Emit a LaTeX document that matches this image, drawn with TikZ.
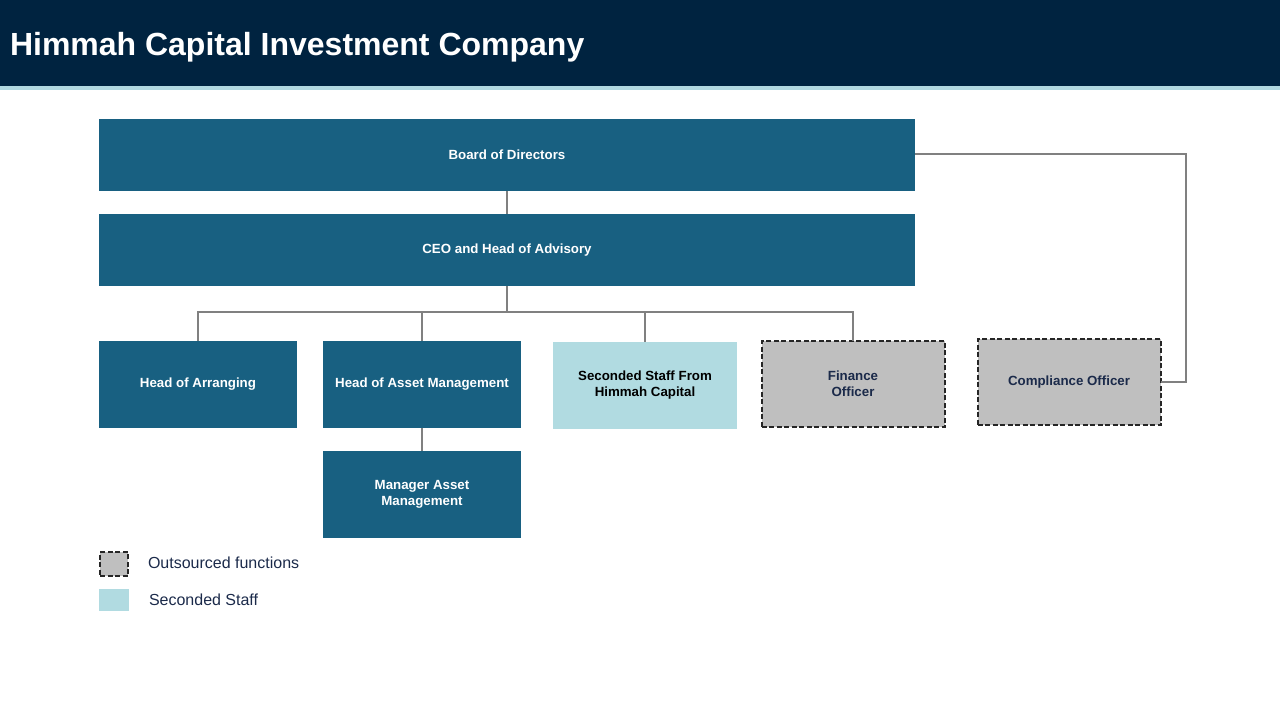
\documentclass[tikz,border=0pt]{standalone}
\usepackage{fontspec}
\setmainfont{Liberation Sans}
\definecolor{hcnavy}{RGB}{0,35,64}
\definecolor{hcstrip}{RGB}{176,216,224}
\definecolor{hcteal}{RGB}{24,96,129}
\definecolor{hclight}{RGB}{177,219,225}
\definecolor{hcgray}{RGB}{191,191,191}
\definecolor{hcline}{RGB}{128,128,128}
\definecolor{hcink}{RGB}{27,42,74}
\begin{document}
\begin{tikzpicture}[x=1pt,y=-1pt]
\tikzset{ >=latex, inner sep=0pt, outer sep=0pt,
  unit/.style={fill=hcteal, text=white, align=center,
    font=\fontsize{13.3}{16}\selectfont\bfseries,
    minimum width=198pt, minimum height=87pt},
  wide/.style={unit, minimum width=816pt, minimum height=72pt},
  seconded/.style={unit, fill=hclight, text=black, minimum width=184pt},
  outsourced/.style={unit, fill=hcgray, text=hcink, draw=black!85,
    line width=2pt, dash pattern=on 5pt off 2.5pt,
    minimum width=183pt, minimum height=86pt},
  link/.style={hcline, line width=2pt},
  keytext/.style={anchor=west, text=hcink, font=\fontsize{16}{18}\selectfont},
}

\useasboundingbox (0,0) rectangle (1280,720);

% header band
\fill [hcnavy]  (0,0)  rectangle (1280,86);
\fill [hcstrip] (0,86) rectangle (1280,90);
\node [anchor=base west, text=white, font=\fontsize{32}{36}\selectfont\bfseries]
  (title) at (10,55) {Himmah Capital Investment Company};

\node [wide] (board) at (507,155) {Board of Directors};
\node [wide] (ceo)   at (507,250) {CEO and Head of Advisory};

\node [unit]       (arr)  at (198,384)  {Head of Arranging};
\node [unit]       (ham)  at (422,384)  {Head of Asset Management};
\node [seconded]   (sec)  at (645,385)  {Seconded Staff From\\Himmah Capital};
\node [outsourced] (fin)  at (853,384)  {Finance\\Officer};
\node [outsourced] (comp) at (1069,382) {Compliance Officer};
\node [unit]       (mam)  at (422,494)  {Manager Asset\\Management};

\coordinate (bus)   at (507,312);
\coordinate (right) at (1186,154);

\draw [link] (board) -- (ceo);
\draw [link] (ceo.south) -- (bus);
\draw [link] (arr.north) |- (fin.north |- bus) -- (fin.north);
\draw [link] (ham.north) -- (ham.north |- bus);
\draw [link] (sec.north) -- (sec.north |- bus);
\draw [link] (ham) -- (mam);
\draw [link] (board.east |- right) -- (right) |- (comp.east);

% legend
\node [outsourced, minimum width=28pt, minimum height=24pt] (keyout) at (114,564) {};
\node [keytext] (keyouttext) at (148,563) {Outsourced functions};
\node [seconded, minimum width=30pt, minimum height=22pt] (keysec) at (114,600) {};
\node [keytext] (keysectext) at (149,600) {Seconded Staff};

\end{tikzpicture}
\end{document}
